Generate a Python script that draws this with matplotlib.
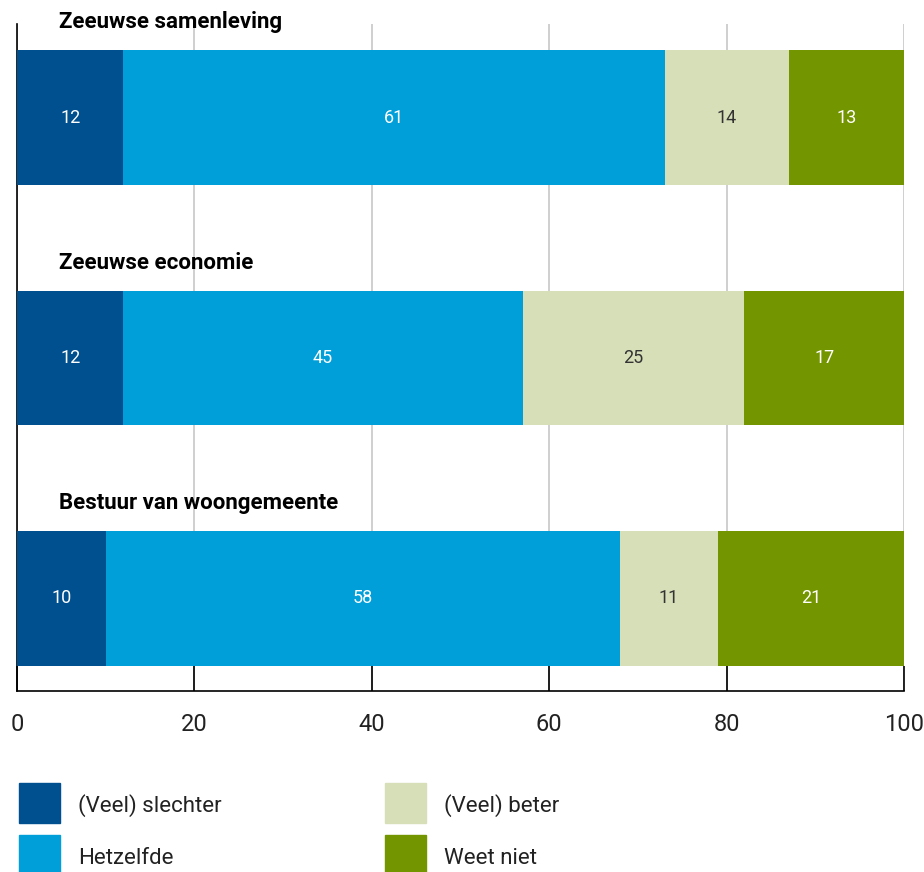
import matplotlib.pyplot as plt
from matplotlib.patches import Rectangle

categories = ["Zeeuwse samenleving", "Zeeuwse economie", "Bestuur van woongemeente"]
series = ["(Veel) slechter", "Hetzelfde", "(Veel) beter", "Weet niet"]
# bar lengths as drawn in the picture
values = {
    "(Veel) slechter": [12, 12, 10],
    "Hetzelfde": [61, 45, 58],
    "(Veel) beter": [14, 25, 11],
    "Weet niet": [13, 18, 21],
}
# numbers printed on the bars (rounded, so one differs from its length)
labels = {
    "(Veel) slechter": [12, 12, 10],
    "Hetzelfde": [61, 45, 58],
    "(Veel) beter": [14, 25, 11],
    "Weet niet": [13, 17, 21],
}
colors = ["#00508f", "#009fda", "#d7dfb8", "#739500"]
label_colors = ["white", "white", "#333333", "white"]
xticks = [0, 20, 40, 60, 80, 100]

plt.rcParams['font.family'] = ['Roboto', 'DejaVu Sans']


def main():
    fig = plt.figure(figsize=(9.24, 8.72), dpi=100)
    ax = fig.add_axes([17 / 924, 1 - 691 / 872, 887 / 924, 667 / 872])

    ypos = list(range(len(categories)))
    left = [0] * len(categories)
    for name, col, lc in zip(series, colors, label_colors):
        vals = values[name]
        bars = ax.barh(ypos, vals, left=left, height=0.561, color=col, zorder=3)
        ax.bar_label(bars, labels=[str(v) for v in labels[name]], label_type='center',
                     color=lc, fontsize=13)
        left = [a + b for a, b in zip(left, vals)]

    for y, cat in zip(ypos, categories):
        ax.text(4.73, y - 0.397, cat, fontsize=16, fontweight='bold',
                va='center', ha='left', color='black')

    ax.set_xlim(0, 100)
    ax.set_ylim(2.385, -0.389)
    ax.set_xticks(xticks)
    ax.set_yticks([])
    ax.xaxis.grid(True, color='#cccccc', linewidth=1.3, zorder=0)
    ax.set_axisbelow(True)
    ax.tick_params(axis='x', direction='in', length=18, width=1.2, color='black',
                   pad=16, labelsize=17, labelcolor='#222222')
    for s in ['top', 'right']:
        ax.spines[s].set_visible(False)
    ax.spines['left'].set_linewidth(1.2)
    ax.spines['bottom'].set_linewidth(1.2)

    # legend drawn by hand in figure pixels
    pos = [(19, 783), (19, 835), (385, 783), (385, 835)]
    for (px, py), name, col in zip(pos, series, colors):
        fig.add_artist(Rectangle((px / 924, 1 - (py + 40) / 872), 41 / 924, 40 / 872,
                                 transform=fig.transFigure, color=col))
        fig.text((px + 59) / 924, 1 - (py + 23) / 872, name, fontsize=16,
                 va='center', ha='left', color='#222222')

    fig.savefig("out.png", dpi=100)


if __name__ == '__main__':
    main()
